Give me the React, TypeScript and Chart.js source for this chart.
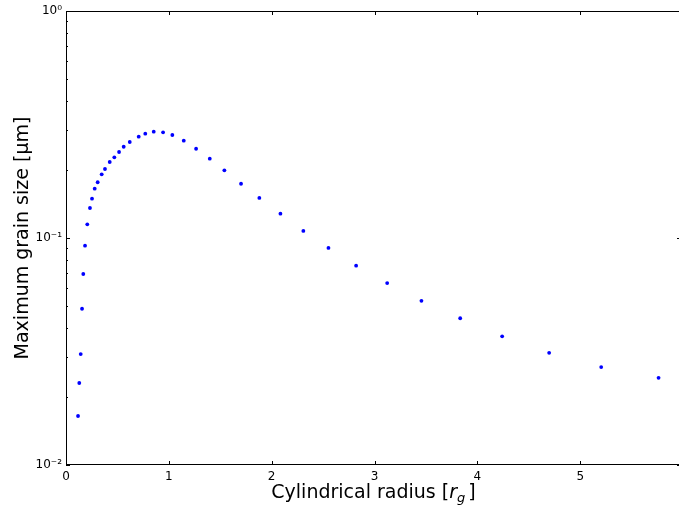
import React, { useEffect, useRef } from "react";
import { Chart, registerables } from "chart.js";

Chart.register(...registerables);

const radius = [
  0.117, 0.129, 0.143, 0.156, 0.168, 0.185, 0.207, 0.233, 0.253, 0.279,
  0.308, 0.347, 0.379, 0.425, 0.47, 0.516, 0.561, 0.62, 0.707, 0.771,
  0.853, 0.944, 1.034, 1.145, 1.265, 1.398, 1.54, 1.702, 1.88, 2.085,
  2.308, 2.552, 2.821, 3.123, 3.456, 3.833, 4.241, 4.698, 5.204, 5.762,
];
const grainSize = [
  0.01644, 0.02297, 0.0308, 0.0488, 0.0694, 0.0925, 0.1149, 0.1356, 0.149, 0.1649,
  0.176, 0.1908, 0.2014, 0.2162, 0.2267, 0.2392, 0.2524, 0.2648, 0.2794, 0.2881,
  0.294, 0.2922, 0.2843, 0.2684, 0.2473, 0.2235, 0.1987, 0.1734, 0.1501, 0.128,
  0.1074, 0.0904, 0.0755, 0.0633, 0.0529, 0.0443, 0.0369, 0.0312, 0.027, 0.0242,
];
const xTicks = [0, 1, 2, 3, 4, 5];
const yTicks = [0.01, 0.1, 1];
const yTickLabels = ["10⁻²", "10⁻¹", "10⁰"];
const yMinorFactors = [2, 3, 4, 5, 6, 7, 8, 9];

const FONT = "'DejaVu Sans', sans-serif";

const mplPlugin = {
  id: "mplFrame",
  afterDraw(chart: any) {
    const { ctx, chartArea: a, scales } = chart;
    const x = scales.x;
    const y = scales.y;
    ctx.save();
    ctx.strokeStyle = "#000";
    ctx.lineWidth = 1;
    ctx.strokeRect(a.left + 0.5, a.top + 0.5, a.right - a.left - 1, a.bottom - a.top - 1);
    ctx.beginPath();
    const major = 4;
    const minor = 2;
    for (const v of xTicks) {
      const px = Math.round(x.getPixelForValue(v)) + 0.5;
      ctx.moveTo(px, a.bottom);
      ctx.lineTo(px, a.bottom - major);
      ctx.moveTo(px, a.top);
      ctx.lineTo(px, a.top + major);
    }
    for (const v of yTicks) {
      const py = Math.round(y.getPixelForValue(v)) + 0.5;
      ctx.moveTo(a.left, py);
      ctx.lineTo(a.left + major, py);
      ctx.moveTo(a.right, py);
      ctx.lineTo(a.right - major, py);
    }
    for (let i = 0; i < yTicks.length - 1; i++) {
      for (const f of yMinorFactors) {
        const py = Math.round(y.getPixelForValue(yTicks[i] * f)) + 0.5;
        ctx.moveTo(a.left, py);
        ctx.lineTo(a.left + minor, py);
        ctx.moveTo(a.right, py);
        ctx.lineTo(a.right - minor, py);
      }
    }
    ctx.stroke();

    // x-axis title with italic r and subscript g, centred on the visible plot
    const size = 19;
    const partA = "Cylindrical radius [";
    const partR = "r";
    const partG = "g";
    const partB = "]";
    ctx.fillStyle = "#000";
    ctx.textBaseline = "alphabetic";
    ctx.textAlign = "left";
    ctx.font = `${size}px ${FONT}`;
    const wA = ctx.measureText(partA).width;
    const wB = ctx.measureText(partB).width;
    ctx.font = `italic ${size}px ${FONT}`;
    const wR = ctx.measureText(partR).width;
    ctx.font = `italic ${Math.round(size * 0.7)}px ${FONT}`;
    const wG = ctx.measureText(partG).width;
    const total = wA + wR + wG + 3 + wB;
    let cx = (a.left + a.right) / 2 - total / 2;
    const base = 498;
    ctx.font = `${size}px ${FONT}`;
    ctx.fillText(partA, cx, base);
    cx += wA;
    ctx.font = `italic ${size}px ${FONT}`;
    ctx.fillText(partR, cx, base);
    cx += wR;
    ctx.font = `italic ${Math.round(size * 0.7)}px ${FONT}`;
    ctx.fillText(partG, cx, base + 4);
    cx += wG + 3;
    ctx.font = `${size}px ${FONT}`;
    ctx.fillText(partB, cx, base);
    ctx.restore();
  },
};

export default function App() {
  const ref = useRef<HTMLCanvasElement>(null);
  useEffect(() => {
    if (!ref.current) return;
    const chart = new Chart(ref.current, {
      type: "scatter",
      data: {
        datasets: [
          {
            data: radius.map((r, i) => ({ x: r, y: grainSize[i] })),
            backgroundColor: "#0000ff",
            borderWidth: 0,
            pointRadius: 1.9,
            showLine: false,
          },
        ],
      },
      options: {
        animation: false,
        responsive: false,
        maintainAspectRatio: false,
        layout: { autoPadding: false, padding: { top: 11, right: 1, left: 0, bottom: 0 } },
        plugins: { legend: { display: false }, tooltip: { enabled: false } },
        scales: {
          x: {
            type: "linear",
            min: 0,
            max: 5.98,
            grid: { display: false, drawTicks: false },
            border: { display: false },
            afterBuildTicks: (s: any) => {
              s.ticks = xTicks.map((v) => ({ value: v }));
            },
            afterFit: (s: any) => {
              s.height = 42;
              s.paddingLeft = 0;
              s.paddingRight = 0;
            },
            ticks: {
              padding: 5,
              color: "#000",
              font: { family: FONT, size: 12 },
              maxRotation: 0,
              callback: (v: any) => String(v),
            },
          },
          y: {
            type: "logarithmic",
            min: 0.01,
            max: 1,
            grid: { display: false, drawTicks: false },
            border: { display: false },
            afterBuildTicks: (s: any) => {
              s.ticks = yTicks.map((v) => ({ value: v }));
            },
            afterFit: (s: any) => {
              s.width = 66;
              s.paddingTop = 0;
              s.paddingBottom = 0;
            },
            ticks: {
              padding: 4,
              color: "#000",
              font: { family: FONT, size: 12 },
              callback: (v: any) => {
                const i = yTicks.findIndex((t) => Math.abs(t - v) < 1e-9);
                return i >= 0 ? yTickLabels[i] : "";
              },
            },
            title: {
              display: true,
              text: "Maximum grain size [μm]",
              color: "#000",
              font: { family: FONT, size: 19 },
              padding: { top: 12, bottom: 0 },
            },
          },
        },
      },
      plugins: [mplPlugin],
    });
    return () => chart.destroy();
  }, []);
  return (
    <div
      style={{
        position: "fixed",
        left: 0,
        top: 0,
        width: 679,
        height: 507,
        overflow: "hidden",
        background: "#fff",
      }}
    >
      <canvas ref={ref} width={682} height={507} style={{ display: "block" }} />
    </div>
  );
}
